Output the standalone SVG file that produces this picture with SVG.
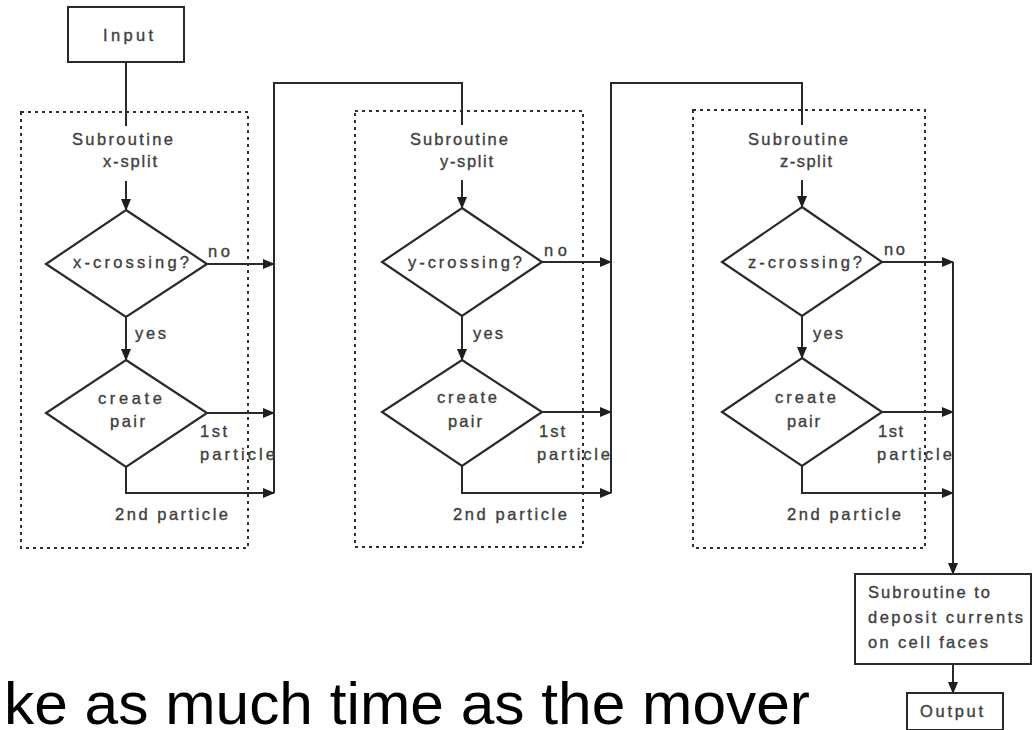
<svg xmlns="http://www.w3.org/2000/svg" width="1036" height="730" viewBox="0 0 1036 730">
  <style>
    .box { fill: #fff; stroke: #2a2a2a; stroke-width: 2; }
    .dia { fill: #fff; stroke: #2a2a2a; stroke-width: 2.2; }
    .grp { fill: none; stroke: #2e2e2e; stroke-width: 2; stroke-dasharray: 3 4; }
    .ln  { fill: none; stroke: #2a2a2a; stroke-width: 2; }
    .arr { fill: none; stroke: #2a2a2a; stroke-width: 2; marker-end: url(#head); }
    .t   { font-family: "Liberation Sans", Arial, sans-serif; font-size: 16.5px; fill: #404040; stroke: #404040; stroke-width: 0.35; }
    .big { font-family: "Liberation Sans", Arial, sans-serif; font-size: 60px; fill: #000; }
  </style>
  <defs>
    <marker id="head" markerUnits="userSpaceOnUse" markerWidth="12" markerHeight="10" refX="11" refY="5" orient="auto">
      <path d="M0,0 L12,5 L0,10 Z" fill="#1e1e1e"/>
    </marker>
  </defs>

  <!-- dotted subroutine frames -->
  <g id="frames">
    <rect class="grp" x="21" y="112" width="227" height="436"/>
    <rect class="grp" x="355" y="111" width="228" height="436"/>
    <rect class="grp" x="693" y="110" width="232" height="438"/>
  </g>

  <!-- connectors -->
  <g id="connectors">
    <path class="ln" d="M126,62 V126"/>
    <!-- x-split -->
    <path class="arr" d="M126,181 V210"/>
    <path class="arr" d="M207,264 H274"/>
    <path class="arr" d="M126,317 V360"/>
    <path class="arr" d="M207,413 H274"/>
    <path class="arr" d="M126,467 V493 H274"/>
    <path class="ln" d="M274,493 V83 H462 V125"/>
    <!-- y-split -->
    <path class="arr" d="M462,180 V208"/>
    <path class="arr" d="M542,262 H611"/>
    <path class="arr" d="M462,316 V360"/>
    <path class="arr" d="M542,412 H611"/>
    <path class="arr" d="M462,466 V493 H611"/>
    <path class="ln" d="M611,493 V83 H802 V125"/>
    <!-- z-split -->
    <path class="arr" d="M802,180 V207"/>
    <path class="arr" d="M882,262 H953"/>
    <path class="arr" d="M802,316 V358"/>
    <path class="arr" d="M882,412 H953"/>
    <path class="arr" d="M802,466 V493 H953"/>
    <path class="arr" d="M953,262 V574"/>
    <path class="arr" d="M953,664 V693"/>
  </g>

  <g id="input">
    <rect class="box" x="68" y="7" width="116" height="55"/>
    <text class="t" x="103" y="41" textLength="50" lengthAdjust="spacing">Input</text>
  </g>

  <!-- x-split -->
  <g id="xsplit-label">
    <text class="t" x="72" y="145" textLength="101" lengthAdjust="spacing">Subroutine</text>
    <text class="t" x="103" y="167" textLength="54" lengthAdjust="spacing">x-split</text>
  </g>
  <g id="x-crossing">
    <polygon class="dia" points="126,210 207,264 126,317 46,264"/>
    <text class="t" x="73" y="268" textLength="116" lengthAdjust="spacing">x-crossing?</text>
    <text class="t" x="208" y="257" textLength="22" lengthAdjust="spacing">no</text>
    <text class="t" x="135" y="339" textLength="31" lengthAdjust="spacing">yes</text>
  </g>
  <g id="x-pair">
    <polygon class="dia" points="126,360 207,413 126,467 46,413"/>
    <text class="t" x="98" y="404" textLength="64" lengthAdjust="spacing">create</text>
    <text class="t" x="110" y="427" textLength="35" lengthAdjust="spacing">pair</text>
    <text class="t" x="200" y="437" textLength="27" lengthAdjust="spacing">1st</text>
    <text class="t" x="200" y="460" textLength="75" lengthAdjust="spacing">particle</text>
    <text class="t" x="115" y="520" textLength="113" lengthAdjust="spacing">2nd  particle</text>
  </g>

  <!-- y-split -->
  <g id="ysplit-label">
    <text class="t" x="410" y="145" textLength="98" lengthAdjust="spacing">Subroutine</text>
    <text class="t" x="440" y="167" textLength="53" lengthAdjust="spacing">y-split</text>
  </g>
  <g id="y-crossing">
    <polygon class="dia" points="462,208 542,262 462,316 382,262"/>
    <text class="t" x="408" y="268" textLength="114" lengthAdjust="spacing">y-crossing?</text>
    <text class="t" x="544" y="256" textLength="23" lengthAdjust="spacing">no</text>
    <text class="t" x="473" y="339" textLength="30" lengthAdjust="spacing">yes</text>
  </g>
  <g id="y-pair">
    <polygon class="dia" points="462,360 542,412 462,466 382,412"/>
    <text class="t" x="437" y="403" textLength="60" lengthAdjust="spacing">create</text>
    <text class="t" x="448" y="427" textLength="34" lengthAdjust="spacing">pair</text>
    <text class="t" x="539" y="437" textLength="26" lengthAdjust="spacing">1st</text>
    <text class="t" x="537" y="460" textLength="73" lengthAdjust="spacing">particle</text>
    <text class="t" x="453" y="520" textLength="114" lengthAdjust="spacing">2nd  particle</text>
  </g>

  <!-- z-split -->
  <g id="zsplit-label">
    <text class="t" x="748" y="145" textLength="100" lengthAdjust="spacing">Subroutine</text>
    <text class="t" x="780" y="167" textLength="52" lengthAdjust="spacing">z-split</text>
  </g>
  <g id="z-crossing">
    <polygon class="dia" points="802,207 882,262 802,316 722,262"/>
    <text class="t" x="748" y="268" textLength="114" lengthAdjust="spacing">z-crossing?</text>
    <text class="t" x="884" y="255" textLength="21" lengthAdjust="spacing">no</text>
    <text class="t" x="813" y="339" textLength="30" lengthAdjust="spacing">yes</text>
  </g>
  <g id="z-pair">
    <polygon class="dia" points="802,358 882,412 802,466 722,412"/>
    <text class="t" x="775" y="403" textLength="61" lengthAdjust="spacing">create</text>
    <text class="t" x="787" y="427" textLength="33" lengthAdjust="spacing">pair</text>
    <text class="t" x="878" y="437" textLength="25" lengthAdjust="spacing">1st</text>
    <text class="t" x="877" y="460" textLength="75" lengthAdjust="spacing">particle</text>
    <text class="t" x="787" y="520" textLength="114" lengthAdjust="spacing">2nd  particle</text>
  </g>

  <g id="deposit">
    <rect class="box" x="855" y="574" width="176" height="90"/>
    <text class="t" x="868" y="598" textLength="122" lengthAdjust="spacing">Subroutine  to</text>
    <text class="t" x="868" y="623" textLength="155" lengthAdjust="spacing">deposit  currents</text>
    <text class="t" x="868" y="648" textLength="120" lengthAdjust="spacing">on  cell  faces</text>
  </g>

  <g id="output">
    <rect class="box" x="907" y="693" width="96" height="37"/>
    <text class="t" x="920" y="717" textLength="63" lengthAdjust="spacing">Output</text>
  </g>

  <text class="big" x="4" y="724" textLength="806" lengthAdjust="spacingAndGlyphs">ke as much time as the mover</text>
</svg>
